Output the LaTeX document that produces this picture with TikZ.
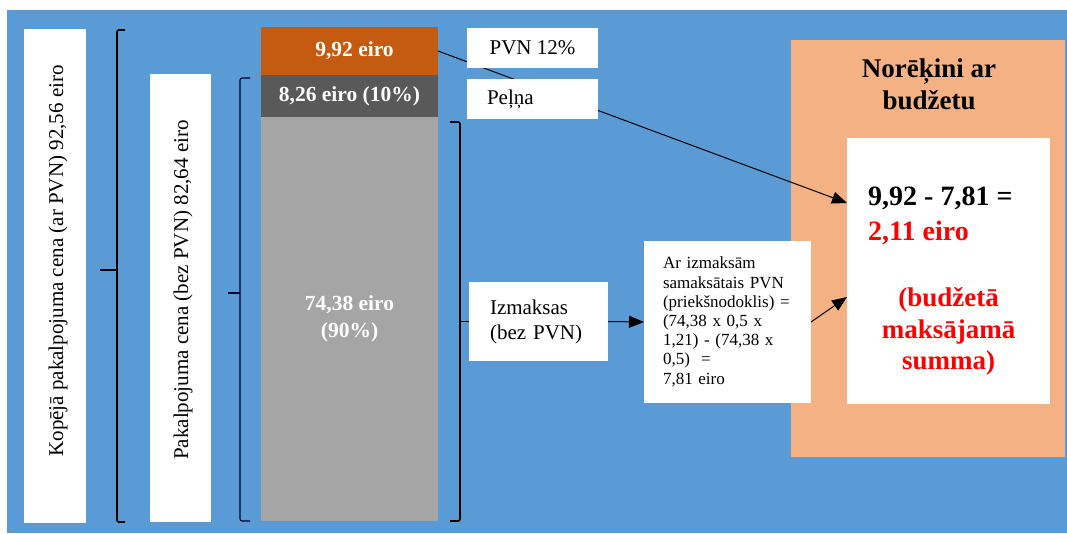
\documentclass[tikz,border=0pt]{standalone}
\usepackage{fontspec}
\setmainfont{Liberation Serif}
\usetikzlibrary{arrows.meta,calc}
\definecolor{bgblue}{HTML}{5B9BD5}
\definecolor{barorange}{HTML}{C55A11}
\definecolor{bardark}{HTML}{595959}
\definecolor{bargray}{HTML}{A5A5A5}
\definecolor{panelorange}{HTML}{F4B183}
\definecolor{redtxt}{HTML}{FF0000}
\begin{document}
\begin{tikzpicture}[x=1pt,y=-1pt,
  wbox/.style={fill=white, draw=none, inner sep=0pt, outer sep=0pt},
  bar/.style={draw=none, inner sep=0pt, outer sep=0pt, minimum width=177pt, text=white, align=center,
    font=\bfseries\fontsize{21.5}{27.5}\selectfont},
  lbl/.style={font=\fontsize{21}{25}\selectfont},
  calcfont/.style={font=\fontsize{17}{19.2}\selectfont},
  brk/.style={draw=black, line width=1.6pt, rounded corners=2pt},
  brkthin/.style={draw=black!80!blue, line width=1.1pt, rounded corners=2pt},
  arr/.style={draw=black, line width=1pt, -{Triangle[length=15pt,width=12pt]}},
]
\useasboundingbox (0,0) rectangle (1067,533);
\fill[bgblue] (7,10) rectangle (1067,533);

% settlement panel
\node[fill=panelorange, inner sep=0pt, minimum width=274pt, minimum height=417pt] (panel) at (928,248.5) {};
\node[align=center, font=\bfseries\fontsize{27}{32}\selectfont] (title) at (929,84) {Norēķini ar\\budžetu};
\node[wbox, minimum width=203pt, minimum height=266pt] (res) at (948.5,271) {};
\node[anchor=west, align=left, inner sep=0pt, font=\bfseries\fontsize{28}{35}\selectfont] (restxt) at (868,215.5)
  {9,92 - 7,81 =\\\textcolor{redtxt}{2,11 eiro}};
\node[align=center, inner sep=0pt, text=redtxt, font=\bfseries\fontsize{27}{31.5}\selectfont] (resnote) at (948.5,331.5)
  {(budžetā\\maksājamā\\summa)};

% stacked bar
\node[bar, fill=barorange, minimum height=48pt] (vat) at (349.5,51) {\hspace*{10pt}9,92 eiro};
\node[bar, fill=bardark, minimum height=42pt] (profit) at (349.5,96) {8,26 eiro (10\%)};
\node[bar, fill=bargray, minimum height=404pt] (cost) at (349.5,319) {74,38 eiro\\(90\%)};

% VAT arrow (behind the label boxes)
\draw[arr] (vat.east) -- ([yshift=68pt]res.west);

% labels right of bar
\node[wbox, lbl, minimum width=131pt, minimum height=40pt] (pvn) at (532.5,48) {PVN 12\%};
\node[wbox, lbl, minimum height=40pt, inner xsep=20pt, text width=91pt, align=left] (pel) at (532.5,99) {Peļņa};
\node[wbox, lbl, minimum height=79pt, inner xsep=21pt, text width=97pt, align=left] (izm) at (538.5,321.5) {Izmaksas\\(bez PVN)};
\node[wbox, calcfont, minimum height=162pt, inner xsep=19pt, text width=129pt, align=left] (calc) at (727.5,322)
  {Ar izmaksām\\samaksātais PVN\\(priekšnodoklis) =\\(74,38 x 0,5 x\\1,21) - (74,38 x\\0,5) \ =\\7,81 eiro};

\draw[arr] (izm.east) -- (calc.west);
\draw[arr] (calc.east) -- ([yshift=-26pt]res.west);

% left labels
\node[wbox, minimum width=62pt, minimum height=494pt] (tot) at (55,276) {};
\node[lbl, rotate=90, inner sep=0pt] (tottxt) at (58,261) {Kopējā pakalpojuma cena (ar PVN) 92,56 eiro};
\node[wbox, minimum width=61pt, minimum height=448pt] (net) at (180.5,298) {};
\node[lbl, rotate=90, inner sep=0pt] (nettxt) at (183,290) {Pakalpojuma cena (bez PVN) 82,64 eiro};

% brackets
\draw[brk] (125,30) -- (117,30) -- (117,522) -- (125,522);
\draw[brk] (117,270) -- (100,270);
\draw[brkthin] (250,78) -- (240,78) -- (240,521) -- (250,521);
\draw[brkthin] (240,293) -- (228,293);
\draw[brk] (450,122) -- (460,122) -- (460,521) -- (450,521);
\draw[brk] (460,321.5) -- (izm.west);
\end{tikzpicture}
\end{document}
